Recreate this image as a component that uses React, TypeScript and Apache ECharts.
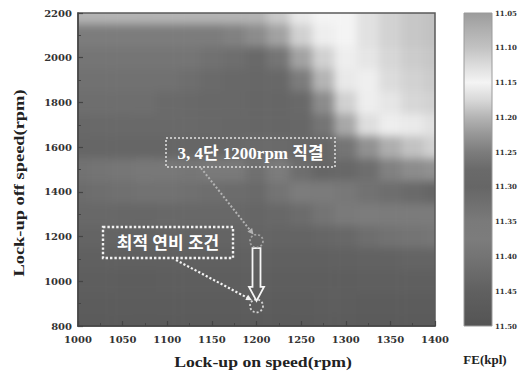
import { useEffect, useRef } from 'react';
import * as echarts from 'echarts';

// ---- data ----
const onSpeeds = [1000, 1025, 1050, 1075, 1100, 1125, 1150, 1175, 1200, 1225, 1250, 1275, 1300, 1325, 1350, 1375, 1400];
const offSpeeds = [800, 900, 1000, 1100, 1200, 1300, 1400, 1500, 1600, 1700, 1800, 1900, 2000, 2100, 2200];

const fe800 = [11.47, 11.47, 11.472, 11.472, 11.47, 11.47, 11.472, 11.472, 11.47, 11.47, 11.47, 11.468, 11.468, 11.47, 11.47, 11.47, 11.47];
const fe900 = [11.465, 11.465, 11.467, 11.467, 11.465, 11.465, 11.467, 11.467, 11.465, 11.465, 11.465, 11.463, 11.463, 11.465, 11.465, 11.465, 11.465];
const fe1000 = [11.46, 11.46, 11.462, 11.462, 11.46, 11.46, 11.46, 11.46, 11.46, 11.46, 11.46, 11.458, 11.458, 11.456, 11.455, 11.455, 11.455];
const fe1100 = [11.45, 11.45, 11.452, 11.452, 11.45, 11.45, 11.45, 11.45, 11.45, 11.45, 11.45, 11.45, 11.448, 11.445, 11.445, 11.44, 11.44];
const fe1200 = [11.44, 11.44, 11.442, 11.442, 11.44, 11.44, 11.44, 11.44, 11.44, 11.44, 11.44, 11.435, 11.43, 11.415, 11.405, 11.4, 11.395];
const fe1300 = [11.43, 11.43, 11.432, 11.432, 11.43, 11.43, 11.43, 11.43, 11.435, 11.43, 11.42, 11.4, 11.38, 11.37, 11.365, 11.36, 11.36];
const fe1400 = [11.42, 11.415, 11.41, 11.405, 11.405, 11.41, 11.415, 11.42, 11.425, 11.4, 11.375, 11.36, 11.345, 11.33, 11.32, 11.31, 11.3];
const fe1500 = [11.33, 11.335, 11.34, 11.345, 11.345, 11.34, 11.35, 11.38, 11.41, 11.37, 11.32, 11.3, 11.285, 11.27, 11.245, 11.235, 11.23];
const fe1600 = [11.3, 11.3, 11.3, 11.3, 11.3, 11.3, 11.3, 11.305, 11.31, 11.31, 11.305, 11.295, 11.26, 11.23, 11.205, 11.19, 11.18];
const fe1700 = [11.285, 11.28, 11.28, 11.28, 11.28, 11.28, 11.29, 11.295, 11.3, 11.3, 11.295, 11.26, 11.21, 11.17, 11.155, 11.14, 11.13];
const fe1800 = [11.27, 11.27, 11.27, 11.27, 11.275, 11.28, 11.285, 11.29, 11.3, 11.3, 11.28, 11.235, 11.18, 11.155, 11.135, 11.12, 11.115];
const fe1900 = [11.265, 11.265, 11.265, 11.265, 11.265, 11.27, 11.275, 11.285, 11.295, 11.29, 11.25, 11.2, 11.16, 11.145, 11.125, 11.115, 11.11];
const fe2000 = [11.26, 11.26, 11.26, 11.26, 11.26, 11.26, 11.265, 11.27, 11.28, 11.26, 11.215, 11.18, 11.155, 11.135, 11.12, 11.11, 11.105];
const fe2100 = [11.25, 11.25, 11.25, 11.25, 11.25, 11.25, 11.25, 11.245, 11.235, 11.215, 11.18, 11.155, 11.15, 11.13, 11.115, 11.105, 11.1];
const fe2200 = [11.2, 11.2, 11.2, 11.2, 11.2, 11.2, 11.2, 11.2, 11.2, 11.185, 11.16, 11.15, 11.15, 11.13, 11.115, 11.105, 11.1];
const feRows = [fe800, fe900, fe1000, fe1100, fe1200, fe1300, fe1400, fe1500, fe1600, fe1700, fe1800, fe1900, fe2000, fe2100, fe2200];

// colour bar: 11.05 .. 11.50 in steps of 0.025
const barMin = 11.05;
const barMax = 11.5;
const barGrays = ['#9c9c9c', '#b0b0b0', '#c2c2c2', '#dcdcdc', '#f4f4f4', '#d8d8d8', '#b4b4b4', '#969696', '#7c7c7c', '#6a6a6a', '#666666', '#707070', '#7a7a7a', '#7c7c7c', '#747474', '#6a6a6a', '#606060', '#5a5a5a', '#545454'];

// marked points (on speed, off speed)
const markOn = [1200, 1200];
const markOff = [1180, 890];

const PLOT = { left: 78, top: 13, width: 357, height: 313 };
const BAR = { left: 464, top: 13, width: 28, height: 313 };
const D = 30;

const serifNum = "'DejaVu Serif', serif";
const serifTitle = "'Liberation Serif', 'Times New Roman', serif";
const boxFont = "bold 17px 'Liberation Serif', 'Noto Sans CJK KR', sans-serif";

function arrowHead(tip: number[], from: number[], len: number, half: number) {
  const dx = tip[0] - from[0];
  const dy = tip[1] - from[1];
  const l = Math.hypot(dx, dy);
  const ux = dx / l, uy = dy / l;
  const px = -uy, py = ux;
  const bx = tip[0] - ux * len, by = tip[1] - uy * len;
  return [[tip[0], tip[1]], [bx + px * half, by + py * half], [bx - px * half, by - py * half]];
}

export default function App() {
  const heatRef = useRef<HTMLDivElement>(null);
  const topRef = useRef<HTMLDivElement>(null);

  useEffect(() => {
    if (!heatRef.current || !topRef.current) return;
    const heat = echarts.init(heatRef.current, undefined, { renderer: 'svg' });
    const top = echarts.init(topRef.current, undefined, { renderer: 'svg' });

    const bx = PLOT.width / (onSpeeds.length - 1);
    const by = PLOT.height / (offSpeeds.length - 1);
    const data: number[][] = [];
    feRows.forEach((row, yi) => row.forEach((v, xi) => data.push([xi, yi, v])));

    heat.setOption({
      animation: false,
      grid: { left: D - bx / 2, top: D - by / 2, width: PLOT.width + bx, height: PLOT.height + by },
      xAxis: { type: 'category', data: onSpeeds.map(String), show: false },
      yAxis: { type: 'category', data: offSpeeds.map(String), show: false },
      visualMap: { show: false, type: 'continuous', min: barMin, max: barMax, dimension: 2, inRange: { color: barGrays } },
      series: [{ type: 'heatmap', data, silent: true, emphasis: { disabled: true }, progressive: 0, itemStyle: { borderWidth: 0 } }],
    });

    const axisCommon = {
      axisLine: { show: true, onZero: false, lineStyle: { color: '#444', width: 1.5 } },
      axisTick: { show: true, inside: true, length: 5, lineStyle: { color: '#444', width: 1.2 } },
      minorTick: { show: true, splitNumber: 2, length: 3, lineStyle: { color: '#444', width: 1 } },
      splitLine: { show: false },
    };
    const labelCommon = { fontFamily: serifNum, fontWeight: 'bold', fontSize: 10, color: '#333', formatter: (v: number) => String(v) };

    top.setOption({
      animation: false,
      grid: [
        { left: PLOT.left, top: PLOT.top, width: PLOT.width, height: PLOT.height, show: true, borderColor: '#5a5a5a', borderWidth: 1.5, backgroundColor: 'transparent' },
        { left: BAR.left, top: BAR.top, width: BAR.width, height: BAR.height },
      ],
      xAxis: [
        { gridIndex: 0, type: 'value', min: 1000, max: 1400, interval: 50, ...axisCommon, axisLabel: { ...labelCommon, margin: 8 } },
        { gridIndex: 1, type: 'value', min: 0, max: 1, show: false },
      ],
      yAxis: [
        { gridIndex: 0, type: 'value', min: 800, max: 2200, interval: 200, ...axisCommon, axisLabel: { ...labelCommon, margin: 6 } },
        {
          gridIndex: 1, type: 'value', min: 1105, max: 1150, interval: 5, inverse: true, position: 'right',
          axisLine: { show: false }, axisTick: { show: false }, splitLine: { show: false },
          axisLabel: { margin: 3, fontFamily: serifNum, fontWeight: 'bold', fontSize: 7, color: '#333', formatter: (v: number) => (v / 100).toFixed(2) },
        },
      ],
      series: [
        {
          type: 'scatter', xAxisIndex: 0, yAxisIndex: 0, symbol: 'circle', symbolSize: 13, silent: true,
          data: markOn.map((x, i) => ({
            value: [x, markOff[i]],
            itemStyle: { color: 'rgba(0,0,0,0)', borderColor: i === 0 ? '#b4b4b4' : '#f2f2f2', borderWidth: 1.8, borderType: [2, 2] },
          })),
        },
      ],
    });

    const c1 = top.convertToPixel({ gridIndex: 0 }, [markOn[0], markOff[0]]) as number[];
    const c2 = top.convertToPixel({ gridIndex: 0 }, [markOn[1], markOff[1]]) as number[];
    const cx = c1[0];
    const aTop = c1[1] + 7;
    const aTip = c2[1] - 5;
    const aNeck = aTip - 14;

    const l1a = [201, 168];
    const l1b = [c1[0] - 5, c1[1] - 9];
    const l2a = [176, 260];
    const l2b = [c2[0] - 7, c2[1] - 7];
    const barStops = barGrays.map((c, i) => ({ offset: i / (barGrays.length - 1), color: c }));

    top.setOption({
      graphic: [
        { type: 'rect', silent: true, shape: { x: BAR.left, y: BAR.top, width: BAR.width, height: BAR.height }, style: { fill: new echarts.graphic.LinearGradient(0, 0, 0, 1, barStops), stroke: '#9a9a9a', lineWidth: 1 } },
        // box 1
        { type: 'rect', silent: true, shape: { x: 166, y: 138, width: 169, height: 29 }, style: { fill: 'none', stroke: '#c4c4c4', lineWidth: 2, lineDash: [2, 2] } },
        { type: 'text', silent: true, x: 250.5, y: 153, style: { text: '3, 4단 1200rpm 직결', font: boxFont, fill: '#ffffff', align: 'center', verticalAlign: 'middle' } },
        // box 2
        { type: 'rect', silent: true, shape: { x: 103, y: 227, width: 130, height: 31 }, style: { fill: 'none', stroke: '#f2f2f2', lineWidth: 2.4, lineDash: [2.4, 2] } },
        { type: 'text', silent: true, x: 168, y: 243, style: { text: '최적 연비 조건', font: boxFont, fill: '#ffffff', align: 'center', verticalAlign: 'middle' } },
        // dotted pointer lines
        { type: 'line', silent: true, shape: { x1: l1a[0], y1: l1a[1], x2: l1b[0], y2: l1b[1] }, style: { stroke: '#b4b4b4', lineWidth: 2, lineDash: [2, 2] } },
        { type: 'polygon', silent: true, shape: { points: arrowHead([l1b[0] + 2, l1b[1] + 2.5], l1a, 6, 3) }, style: { fill: '#b4b4b4' } },
        { type: 'line', silent: true, shape: { x1: l2a[0], y1: l2a[1], x2: l2b[0], y2: l2b[1] }, style: { stroke: '#f2f2f2', lineWidth: 2.2, lineDash: [2.2, 2] } },
        { type: 'polygon', silent: true, shape: { points: arrowHead([l2b[0] + 2.5, l2b[1] + 1.3], l2a, 6, 3) }, style: { fill: '#f2f2f2' } },
        // hollow arrow
        {
          type: 'polygon', silent: true,
          shape: { points: [[cx - 4, aTop], [cx + 4, aTop], [cx + 4, aNeck], [cx + 7.5, aNeck], [cx, aTip], [cx - 7.5, aNeck], [cx - 4, aNeck]] },
          style: { fill: 'none', stroke: '#f6f6f6', lineWidth: 1.8 },
        },
        // titles
        { type: 'text', silent: true, x: 263, y: 362, scaleX: 1.22, style: { text: 'Lock-up on speed(rpm)', font: `bold 14.5px ${serifTitle}`, fill: '#222', align: 'center', verticalAlign: 'middle' } },
        { type: 'text', silent: true, x: 19, y: 183, rotation: Math.PI / 2, scaleX: 1.27, style: { text: 'Lock-up off speed(rpm)', font: `bold 14.5px ${serifTitle}`, fill: '#222', align: 'center', verticalAlign: 'middle' } },
        { type: 'text', silent: true, x: 485, y: 359, style: { text: 'FE(kpl)', font: `bold 13px ${serifTitle}`, fill: '#222', align: 'center', verticalAlign: 'middle' } },
      ],
    });

    return () => {
      heat.dispose();
      top.dispose();
    };
  }, []);

  return (
    <div style={{ position: 'fixed', left: 0, top: 0, width: 525, height: 372, background: '#fff', overflow: 'hidden' }}>
      <div style={{ position: 'absolute', left: PLOT.left, top: PLOT.top, width: PLOT.width, height: PLOT.height, overflow: 'hidden' }}>
        <div ref={heatRef} style={{ position: 'absolute', left: -D, top: -D, width: PLOT.width + 2 * D, height: PLOT.height + 2 * D, filter: 'blur(4px)' }} />
      </div>
      <div ref={topRef} style={{ position: 'absolute', left: 0, top: 0, width: 525, height: 372 }} />
    </div>
  );
}
